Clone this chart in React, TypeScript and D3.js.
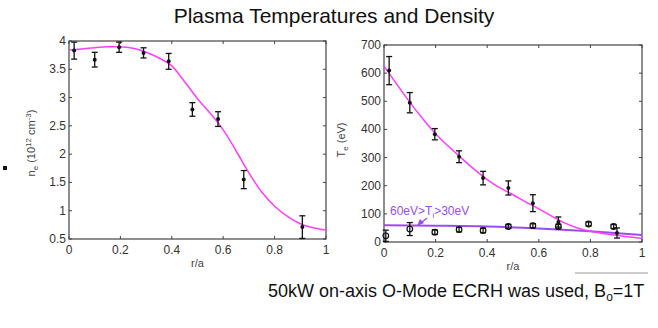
import React, { useEffect, useRef } from 'react';
import * as d3 from 'd3';

// electron density n_e (10^12 cm^-3)
const neR = [0.02, 0.10, 0.195, 0.29, 0.388, 0.48, 0.58, 0.68, 0.908];
const neVal = [3.83, 3.67, 3.89, 3.79, 3.64, 2.79, 2.62, 1.55, 0.71];
const neErr = [0.15, 0.13, 0.09, 0.09, 0.14, 0.12, 0.13, 0.16, 0.2];
const neFitR = [0, 0.05, 0.1, 0.15, 0.2, 0.25, 0.3, 0.35, 0.4, 0.45, 0.5, 0.55, 0.6, 0.65, 0.7, 0.75, 0.8, 0.85, 0.9, 0.95, 1.0];
const neFit = [3.84, 3.86, 3.88, 3.9, 3.9, 3.87, 3.8, 3.7, 3.56, 3.28, 2.98, 2.72, 2.43, 2.06, 1.67, 1.33, 1.08, 0.9, 0.77, 0.7, 0.66];

// electron temperature T_e (eV)
const teR = [0.02, 0.10, 0.197, 0.291, 0.384, 0.482, 0.577, 0.676, 0.903];
const teVal = [609, 495, 383, 303, 227, 192, 138, 71, 32];
const teErr = [50, 36, 20, 21, 24, 25, 30, 18, 18];
const teFitR = [0, 0.05, 0.1, 0.15, 0.2, 0.25, 0.3, 0.35, 0.4, 0.45, 0.5, 0.55, 0.6, 0.65, 0.7, 0.75, 0.8, 0.85, 0.9, 0.95, 1.0];
const teFit = [625, 560, 497, 438, 385, 340, 298, 258, 222, 192, 168, 142, 118, 92, 68, 50, 38, 30, 24, 18, 13];

// ion temperature T_i (eV)
const tiR = [0.007, 0.10, 0.197, 0.291, 0.384, 0.482, 0.577, 0.676, 0.793, 0.89];
const tiVal = [22, 46, 35, 44, 41, 55, 58, 55, 64, 55];
const tiErr = [20, 23, 8, 8, 8, 7, 7, 8, 7, 7];
const tiFitR = [0, 0.2, 0.4, 0.6, 0.8, 1.0];
const tiFit = [60, 58, 55, 48, 38, 25];

const xTicks = [0, 0.2, 0.4, 0.6, 0.8, 1];
const neTicks = [0.5, 1, 1.5, 2, 2.5, 3, 3.5, 4];
const teTicks = [0, 100, 200, 300, 400, 500, 600, 700];

const FONT = 'Liberation Sans, Arial, sans-serif';
const MAGENTA = '#ff3dff';
const PURPLE = '#9a4cf0';

function drawPanel(svg: any, box: any, yDomain: number[], yTicks: number[], yFmt: (d: number) => string) {
  const x = d3.scaleLinear().domain([0, 1]).range([box.x0, box.x1]);
  const y = d3.scaleLinear().domain(yDomain).range([box.y1, box.y0]);
  const g = svg.append('g');
  const tl = 3;
  // ticks inside, on all four sides
  xTicks.forEach(t => {
    g.append('line').attr('x1', x(t)).attr('x2', x(t)).attr('y1', box.y1).attr('y2', box.y1 - tl).attr('stroke', '#444');
    g.append('line').attr('x1', x(t)).attr('x2', x(t)).attr('y1', box.y0).attr('y2', box.y0 + tl).attr('stroke', '#444');
    g.append('text').attr('x', x(t)).attr('y', box.y1 + 15).attr('text-anchor', 'middle')
      .attr('font-size', 12).attr('font-family', FONT).attr('fill', '#333').text(d3.format('')(t));
  });
  yTicks.forEach(t => {
    g.append('line').attr('x1', box.x0).attr('x2', box.x0 + tl).attr('y1', y(t)).attr('y2', y(t)).attr('stroke', '#444');
    g.append('line').attr('x1', box.x1).attr('x2', box.x1 - tl).attr('y1', y(t)).attr('y2', y(t)).attr('stroke', '#444');
    g.append('text').attr('x', box.x0 - 3).attr('y', y(t) + 4).attr('text-anchor', 'end')
      .attr('font-size', 12).attr('font-family', FONT).attr('fill', '#333').text(yFmt(t));
  });
  g.append('rect').attr('x', box.x0).attr('y', box.y0).attr('width', box.x1 - box.x0).attr('height', box.y1 - box.y0)
    .attr('fill', 'none').attr('stroke', '#444').attr('stroke-width', 1.2);
  g.append('text').attr('x', (box.x0 + box.x1) / 2).attr('y', box.y1 + 28).attr('text-anchor', 'middle')
    .attr('font-size', 11).attr('font-family', FONT).attr('fill', '#444').text('r/a');
  return { x, y, g };
}

function errorBars(g: any, x: any, y: any, rs: number[], vs: number[], es: number[]) {
  rs.forEach((r, i) => {
    const cx = x(r);
    g.append('line').attr('x1', cx).attr('x2', cx).attr('y1', y(vs[i] - es[i])).attr('y2', y(vs[i] + es[i]))
      .attr('stroke', '#111').attr('stroke-width', 1.3);
    [vs[i] - es[i], vs[i] + es[i]].forEach(v => {
      g.append('line').attr('x1', cx - 3).attr('x2', cx + 3).attr('y1', y(v)).attr('y2', y(v))
        .attr('stroke', '#111').attr('stroke-width', 1.3);
    });
  });
}

export default function App() {
  const ref = useRef<SVGSVGElement>(null);

  useEffect(() => {
    const svg = d3.select(ref.current);
    svg.selectAll('*').remove();

    // title
    svg.append('text').attr('x', 334).attr('y', 23).attr('text-anchor', 'middle')
      .attr('font-size', 21).attr('font-family', FONT).attr('fill', '#111').text('Plasma Temperatures and Density');

    // left panel: density
    const L = drawPanel(svg, { x0: 69, x1: 326, y0: 41, y1: 239 }, [0.5, 4], neTicks, d => d3.format('')(d));
    const lineL = d3.line<number>().x((_, i) => L.x(neFitR[i])).y(d => L.y(d)).curve(d3.curveMonotoneX);
    L.g.append('path').attr('d', lineL(neFit)).attr('fill', 'none').attr('stroke', MAGENTA).attr('stroke-width', 1.5);
    errorBars(L.g, L.x, L.y, neR, neVal, neErr);
    neR.forEach((r, i) => {
      L.g.append('circle').attr('cx', L.x(r)).attr('cy', L.y(neVal[i])).attr('r', 2).attr('fill', '#111');
    });
    const ly = svg.append('text').attr('transform', 'translate(35,143) rotate(-90)').attr('text-anchor', 'middle')
      .attr('font-size', 11).attr('font-family', FONT).attr('fill', '#444');
    ly.append('tspan').text('n');
    ly.append('tspan').attr('font-size', 8).attr('dy', 3).text('e');
    ly.append('tspan').attr('dy', -3).text(' (10');
    ly.append('tspan').attr('font-size', 8).attr('dy', -4).text('12');
    ly.append('tspan').attr('dy', 4).text(' cm');
    ly.append('tspan').attr('font-size', 8).attr('dy', -4).text('-3');
    ly.append('tspan').attr('dy', 4).text(')');

    // right panel: temperatures
    const R = drawPanel(svg, { x0: 384, x1: 642, y0: 45, y1: 242 }, [0, 700], teTicks, d => d3.format('')(d));
    const lineTi = d3.line<number>().x((_, i) => R.x(tiFitR[i])).y(d => R.y(d)).curve(d3.curveMonotoneX);
    R.g.append('path').attr('d', lineTi(tiFit)).attr('fill', 'none').attr('stroke', PURPLE).attr('stroke-width', 2);
    const lineTe = d3.line<number>().x((_, i) => R.x(teFitR[i])).y(d => R.y(d)).curve(d3.curveMonotoneX);
    R.g.append('path').attr('d', lineTe(teFit)).attr('fill', 'none').attr('stroke', MAGENTA).attr('stroke-width', 1.5);
    errorBars(R.g, R.x, R.y, teR, teVal, teErr);
    teR.forEach((r, i) => {
      R.g.append('circle').attr('cx', R.x(r)).attr('cy', R.y(teVal[i])).attr('r', 2).attr('fill', '#111');
    });
    errorBars(R.g, R.x, R.y, tiR, tiVal, tiErr);
    tiR.forEach((r, i) => {
      R.g.append('circle').attr('cx', R.x(r)).attr('cy', R.y(tiVal[i])).attr('r', 2.8)
        .attr('fill', 'none').attr('stroke', '#111').attr('stroke-width', 1.2);
    });
    const ry = svg.append('text').attr('transform', 'translate(345,140) rotate(-90)').attr('text-anchor', 'middle')
      .attr('font-size', 11).attr('font-family', FONT).attr('fill', '#444');
    ry.append('tspan').text('T');
    ry.append('tspan').attr('font-size', 8).attr('dy', 3).text('e');
    ry.append('tspan').attr('dy', -3).text(' (eV)');

    // T_i annotation
    const ann = svg.append('text').attr('x', 390).attr('y', 215).attr('font-size', 12)
      .attr('font-family', FONT).attr('fill', PURPLE);
    ann.append('tspan').text('60eV>T');
    ann.append('tspan').attr('font-size', 8).attr('dy', 3).text('i');
    ann.append('tspan').attr('dy', -3).text('>30eV');
    svg.append('line').attr('x1', 427).attr('y1', 218).attr('x2', 421).attr('y2', 223)
      .attr('stroke', PURPLE).attr('stroke-width', 1.3);
    svg.append('path').attr('d', 'M417,226 L420,219 L424,223 Z').attr('fill', PURPLE);

    // bullet and footer
    svg.append('rect').attr('x', 3).attr('y', 166).attr('width', 4).attr('height', 4).attr('fill', '#111');
    svg.append('line').attr('x1', 575).attr('x2', 648).attr('y1', 273).attr('y2', 273).attr('stroke', '#999');
    const ft = svg.append('text').attr('x', 268).attr('y', 297).attr('font-size', 18)
      .attr('font-family', FONT).attr('fill', '#111');
    ft.append('tspan').text('50kW on-axis O-Mode ECRH was used, B');
    ft.append('tspan').attr('font-size', 12).attr('dy', 4).text('o');
    ft.append('tspan').attr('dy', -4).text('=1T');
  }, []);

  return (
    <div>
      <svg ref={ref} width={658} height={328} style={{ position: 'absolute', left: 0, top: 0, background: '#fff' }} />
    </div>
  );
}
